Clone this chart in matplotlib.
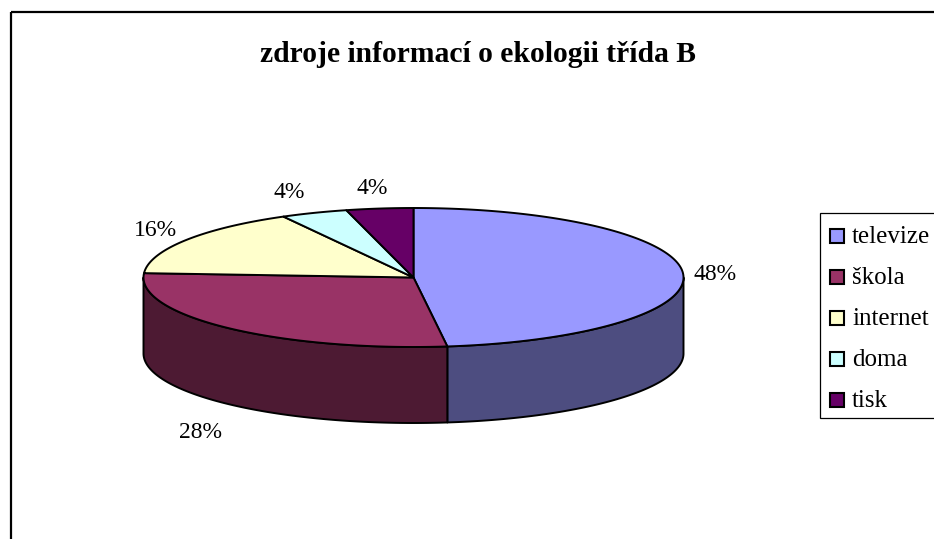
import matplotlib
matplotlib.use("Agg")
import matplotlib.pyplot as plt
import numpy as np
from matplotlib.patches import Polygon, Rectangle

plt.rcParams["font.family"] = ["Liberation Serif", "DejaVu Serif"]

categories = ["televize", "škola", "internet", "doma", "tisk"]
shares = [48, 28, 16, 4, 4]
colors = ["#9999FF", "#993366", "#FFFFCC", "#CCFFFF", "#660066"]
side_colors = ["#4D4D80", "#4D1A33", "#808066", "#668080", "#330033"]
label_pos = [(715, 275), (200, 433), (155, 230), (289, 193), (372, 189)]

W, H = 934, 539
CX, CY, RX, RY, DEPTH = 413.5, 277.5, 270, 69.5, 76

fig = plt.figure(figsize=(W / 100, H / 100), dpi=100)
ax = fig.add_axes([0, 0, 1, 1])
ax.set_xlim(0, W)
ax.set_ylim(H, 0)
ax.axis("off")


def rim(a0, a1, dy=0.0):
    # angles in degrees, clockwise from twelve o'clock
    t = np.radians(np.linspace(a0, a1, max(int(abs(a1 - a0) * 2), 2)))
    return np.column_stack([CX + RX * np.sin(t), CY - RY * np.cos(t) + dy])


edges = np.concatenate([[0], np.cumsum(shares)]) * 3.6

# side wall, only the part facing the viewer (90..270 deg)
for i in range(len(shares)):
    a0, a1 = max(edges[i], 90), min(edges[i + 1], 270)
    if a0 >= a1:
        continue
    top = rim(a0, a1)
    bottom = rim(a0, a1, DEPTH)[::-1]
    ax.add_patch(Polygon(np.vstack([top, bottom]), closed=True, fc=side_colors[i],
                         ec="black", lw=1.4, joinstyle="round"))

# top face
for i in range(len(shares)):
    pts = np.vstack([[[CX, CY]], rim(edges[i], edges[i + 1])])
    ax.add_patch(Polygon(pts, closed=True, fc=colors[i], ec="black", lw=1.4, joinstyle="round"))

for share, (x, y) in zip(shares, label_pos):
    ax.text(x, y, f"{share}%", fontsize=17, ha="center", va="center", color="black")

ax.text(478, 54, "zdroje informací o ekologii třída B", fontsize=21.3, fontweight="bold",
        ha="center", va="center", color="black")

# legend box runs off the right edge like the outer frame
ax.add_patch(Rectangle((820, 213), 130, 205, fc="white", ec="black", lw=0.9))
for i, name in enumerate(categories):
    y = 235.5 + i * 41
    ax.add_patch(Rectangle((829.5, y - 7), 14, 14, fc=colors[i], ec="black", lw=1.5))
    ax.text(852, y + 7.5, name, fontsize=18, ha="left", va="baseline", color="black")

# outer chart frame, cut off by the picture on the right and bottom
ax.add_patch(Rectangle((10.5, 11.5), W + 20, H + 20, fc="none", ec="black", lw=1.6, zorder=5))

fig.savefig("out.png", dpi=100)
